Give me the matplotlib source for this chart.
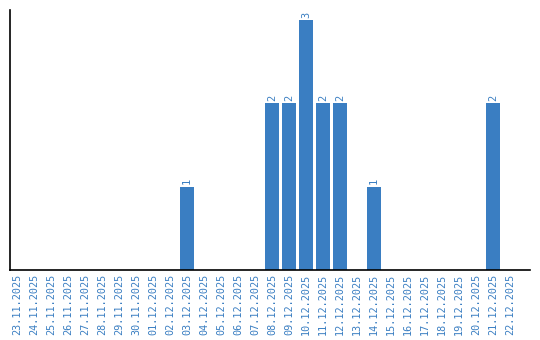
import numpy as np
import matplotlib
matplotlib.use("Agg")
import matplotlib.pyplot as plt

# dates 23.11.2025 .. 22.12.2025
dates = [
    "23.11.2025", "24.11.2025", "25.11.2025", "26.11.2025", "27.11.2025",
    "28.11.2025", "29.11.2025", "30.11.2025", "01.12.2025", "02.12.2025",
    "03.12.2025", "04.12.2025", "05.12.2025", "06.12.2025", "07.12.2025",
    "08.12.2025", "09.12.2025", "10.12.2025", "11.12.2025", "12.12.2025",
    "13.12.2025", "14.12.2025", "15.12.2025", "16.12.2025", "17.12.2025",
    "18.12.2025", "19.12.2025", "20.12.2025", "21.12.2025", "22.12.2025",
]
counts = [0, 0, 0, 0, 0, 0, 0, 0, 0, 0,
          1, 0, 0, 0, 0, 2, 2, 3, 2, 2,
          0, 1, 0, 0, 0, 0, 0, 0, 2, 0]

BLUE = "#3a7ec2"
FONT = "DejaVu Sans Mono"

fig = plt.figure(figsize=(5.4, 3.4), dpi=100)
ax = fig.add_axes([10 / 540, 70 / 340, 520 / 540, 260 / 340])

x = np.arange(len(dates))
ax.bar(x, counts, width=0.82, color=BLUE)

# Werte über den Balken
for xi, c in zip(x, counts):
    if c > 0:
        ax.text(xi, c + 0.03, str(c), rotation=90, ha="center", va="bottom",
                color=BLUE, fontsize=7.5, family=FONT)

ax.set_xlim(-0.41, 30.18)
ax.set_ylim(0, 3.12)
ax.set_xticks(x)
ax.set_xticklabels(dates, rotation=90, color=BLUE, fontsize=7.3, family=FONT)
ax.tick_params(axis="x", length=0, pad=3)
ax.set_yticks([])

for s in ["top", "right"]:
    ax.spines[s].set_visible(False)
for s in ["left", "bottom"]:
    ax.spines[s].set_color("black")
    ax.spines[s].set_linewidth(1.2)

fig.savefig("out.png", dpi=100)
